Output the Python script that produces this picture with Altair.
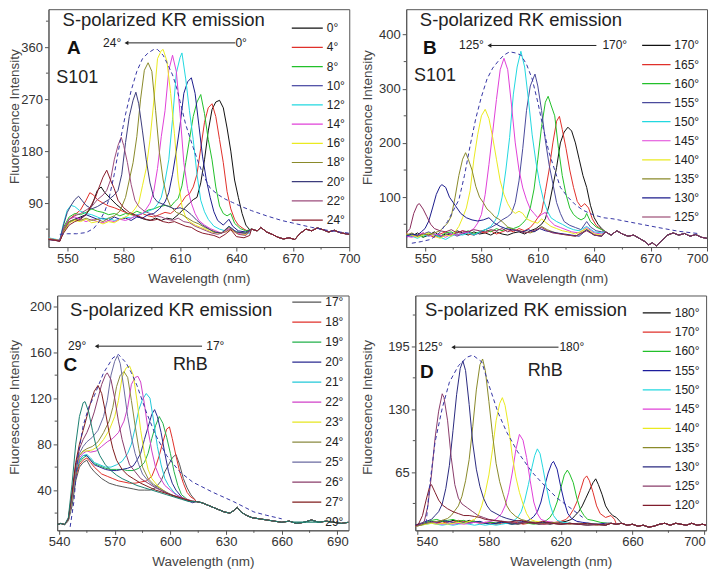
import altair as alt
import pandas as pd

FONT = "Liberation Sans"

# ---------------- Panel A : S101, KR ----------------
A_LABELS = ["0°", "4°", "8°", "10°", "12°", "14°", "16°", "18°", "20°", "22°", "24°"]
A_COLORS = ["#111111", "#e0302a", "#22c02a", "#1c1c8c", "#22d8e0", "#e040d8",
            "#eaea20", "#8a8a2a", "#3c3c7c", "#9c4c7c", "#8a1c2c"]
A_TAIL = [(648, 45), (651, 42), (653, 48), (656, 40), (659, 36), (662, 31), (665, 28),
          (668, 30), (671, 27), (674, 38), (677, 45), (680, 42), (683, 47), (686, 44),
          (689, 40), (692, 43), (695, 39), (698, 37), (700, 36)]
A_CURVES = {
    "0°": [(540, 28), (543, 26), (546, 24), (548, 42), (551, 58), (554, 62), (557, 66), (560, 70),
           (563, 85), (566, 112), (568, 118), (570, 108), (573, 98), (576, 88), (579, 80), (582, 72),
           (585, 70), (588, 66), (591, 62), (594, 60), (597, 64), (600, 60), (603, 64), (606, 62),
           (609, 70), (612, 80), (615, 90), (617, 96), (619, 100), (621, 125), (623, 165), (625, 215),
           (627, 252), (629, 265), (631, 268), (633, 255), (635, 220), (637, 180), (639, 130),
           (641, 100), (643, 72), (645, 52), (647, 44)],
    "4°": [(540, 29), (543, 27), (546, 25), (548, 45), (551, 62), (554, 70), (557, 78), (560, 95),
           (562, 108), (564, 104), (566, 96), (569, 90), (572, 85), (575, 82), (578, 78), (581, 74),
           (584, 70), (587, 68), (590, 72), (593, 68), (596, 66), (599, 70), (602, 74), (605, 72),
           (608, 80), (611, 92), (613, 102), (615, 106), (617, 118), (619, 140), (621, 185),
           (623, 230), (625, 255), (627, 262), (629, 240), (631, 200), (633, 160), (635, 110),
           (637, 80), (639, 62), (641, 52), (644, 45), (647, 40)],
    "8°": [(540, 28), (543, 27), (546, 26), (548, 48), (551, 66), (554, 72), (557, 70), (560, 74),
           (563, 80), (566, 76), (569, 74), (572, 70), (575, 72), (578, 68), (581, 72), (584, 70),
           (587, 76), (590, 72), (593, 78), (596, 80), (599, 84), (602, 86), (605, 84), (607, 92),
           (609, 98), (611, 120), (613, 160), (615, 200), (617, 240), (619, 265), (621, 278),
           (623, 245), (625, 200), (627, 165), (629, 118), (631, 85), (633, 72), (635, 68),
           (637, 72), (639, 55), (642, 46), (645, 42)],
    "10°": [(540, 27), (543, 26), (546, 25), (548, 40), (551, 56), (554, 62), (557, 64), (560, 70),
            (563, 66), (566, 62), (569, 64), (572, 60), (575, 66), (578, 62), (581, 64), (584, 60),
            (587, 66), (590, 64), (593, 70), (596, 72), (599, 80), (602, 92), (604, 108), (606, 140),
            (608, 180), (610, 225), (612, 280), (614, 300), (616, 307), (618, 280), (620, 225),
            (622, 170), (624, 130), (626, 100), (628, 75), (630, 60), (633, 52), (636, 62),
            (638, 50), (641, 42), (645, 40)],
    "12°": [(540, 30), (543, 28), (546, 26), (548, 55), (550, 78), (552, 86), (554, 84), (557, 76),
            (560, 72), (563, 70), (566, 66), (569, 62), (572, 64), (575, 60), (578, 62), (581, 66),
            (584, 64), (587, 70), (590, 72), (593, 76), (596, 80), (598, 88), (600, 100), (602, 128),
            (604, 165), (606, 235), (608, 315), (610, 342), (611, 350), (613, 305), (615, 250),
            (617, 200), (619, 140), (621, 95), (623, 75), (625, 62), (628, 50), (631, 45),
            (634, 42), (636, 50), (639, 42), (643, 38), (647, 38)],
    "14°": [(540, 29), (543, 27), (546, 26), (548, 44), (551, 62), (554, 66), (557, 62), (560, 58),
            (563, 62), (566, 58), (569, 56), (572, 60), (575, 58), (578, 62), (581, 60), (584, 64),
            (587, 68), (590, 72), (592, 80), (594, 90), (596, 110), (598, 150), (600, 205),
            (602, 250), (604, 320), (606, 346), (608, 318), (610, 245), (612, 160), (614, 115),
            (616, 90), (618, 72), (620, 60), (623, 52), (626, 46), (629, 42), (632, 38), (636, 46),
            (640, 38), (645, 36)],
    "16°": [(540, 28), (543, 27), (546, 25), (548, 40), (551, 56), (554, 60), (557, 58), (560, 62),
            (563, 56), (566, 58), (569, 54), (572, 58), (575, 56), (578, 62), (581, 66), (584, 72),
            (586, 80), (588, 90), (590, 120), (592, 150), (594, 200), (596, 265), (598, 340),
            (600, 354), (601, 356), (603, 336), (605, 280), (607, 210), (609, 130), (611, 85),
            (613, 65), (615, 58), (618, 52), (621, 48), (624, 44), (627, 40), (630, 38), (634, 40),
            (637, 44), (641, 36), (645, 36)],
    "18°": [(540, 28), (543, 27), (546, 25), (548, 42), (551, 58), (554, 62), (557, 60), (560, 64),
            (563, 60), (566, 62), (569, 58), (572, 64), (575, 68), (578, 76), (581, 100), (583, 130),
            (585, 160), (587, 205), (589, 270), (591, 320), (593, 333), (595, 318), (597, 250),
            (599, 178), (601, 130), (603, 100), (605, 84), (608, 74), (611, 70), (614, 64),
            (617, 58), (620, 54), (623, 48), (626, 44), (629, 40), (632, 38), (636, 48), (640, 40),
            (645, 38)],
    "20°": [(540, 27), (543, 26), (546, 25), (548, 52), (550, 74), (552, 86), (554, 96), (556, 102),
            (558, 94), (560, 86), (563, 80), (566, 84), (569, 90), (572, 96), (575, 104), (577, 112),
            (579, 140), (581, 195), (583, 240), (585, 268), (586.5, 282), (588, 262), (590, 215),
            (592, 165), (594, 125), (596, 100), (598, 92), (601, 88), (604, 84), (607, 80),
            (610, 82), (613, 78), (616, 70), (619, 60), (622, 52), (625, 46), (628, 40), (632, 38),
            (636, 50), (640, 40), (645, 38)],
    "22°": [(540, 28), (543, 26), (546, 24), (548, 45), (551, 62), (554, 68), (557, 72), (560, 78),
            (563, 84), (566, 96), (569, 104), (571, 112), (573, 130), (575, 165), (577, 190),
            (578.7, 204), (580, 190), (582, 160), (584, 122), (586, 95), (588, 84), (591, 76),
            (594, 72), (597, 68), (600, 66), (603, 62), (606, 60), (609, 64), (612, 58), (615, 56),
            (618, 50), (621, 46), (624, 42), (627, 38), (630, 36), (634, 40), (637, 46), (641, 36),
            (645, 34)],
    "24°": [(540, 27), (543, 26), (546, 24), (548, 38), (551, 52), (554, 58), (557, 62), (560, 70),
            (563, 88), (565, 100), (567, 118), (569, 135), (571, 147), (573, 130), (575, 115),
            (577, 95), (580, 82), (583, 74), (586, 70), (589, 66), (592, 62), (595, 60), (598, 62),
            (601, 58), (604, 56), (607, 58), (610, 54), (613, 50), (616, 48), (619, 42), (622, 38),
            (625, 36), (628, 34), (631, 30), (634, 36), (637, 44), (640, 32), (644, 30), (647, 34)],
}
A_DASH = [(546, 36), (550, 37), (555, 37), (560, 39), (564, 46), (567, 58), (570, 76), (572, 95),
          (575, 140), (578, 195), (581, 244), (584, 285), (587, 318), (590, 340), (593, 350),
          (596, 356), (598, 356), (601, 346), (603, 333), (606, 312), (608, 292), (610, 266),
          (613, 226), (617, 186), (620, 158), (623, 134), (626, 116), (630, 105), (634, 97),
          (638, 91), (642, 85), (648, 77), (656, 68), (664, 60), (672, 54), (680, 48), (690, 42),
          (700, 38)]

# ---------------- Panel B : S101, RK ----------------
B_LABELS = ["170°", "165°", "160°", "155°", "150°", "145°", "140°", "135°", "130°", "125°"]
B_COLORS = ["#111111", "#e0302a", "#22c02a", "#4a4a9c", "#22d8e0", "#e040d8",
            "#eaea20", "#8a8a2a", "#1c1c8c", "#8a2c5c"]
B_TAIL = [(646, 36), (649, 30), (652, 38), (655, 32), (658, 28), (661, 30), (664, 24), (667, 18),
          (669, 12), (671, 16), (673, 10), (676, 20), (679, 30), (682, 34), (685, 30), (688, 33),
          (691, 28), (694, 31), (697, 26), (700, 24)]
B_CURVES = {
    "170°": [(540, 30), (543, 28), (546, 34), (549, 26), (552, 30), (555, 36), (558, 28), (561, 32),
             (564, 30), (567, 38), (570, 34), (573, 30), (576, 36), (579, 32), (582, 34), (585, 30),
             (588, 36), (591, 32), (594, 30), (597, 34), (600, 36), (603, 32), (606, 38), (609, 42),
             (612, 50), (614, 60), (616, 85), (618, 120), (620, 155), (622, 200), (624, 220),
             (626, 229), (628, 222), (630, 200), (632, 170), (634, 140), (636, 118), (638, 85),
             (640, 62), (642, 50), (644, 42)],
    "165°": [(540, 32), (543, 30), (546, 28), (549, 34), (552, 30), (555, 26), (558, 32), (561, 36),
             (564, 30), (567, 34), (570, 38), (573, 32), (576, 30), (579, 36), (582, 34), (585, 38),
             (588, 32), (591, 36), (594, 40), (597, 36), (600, 42), (603, 38), (606, 44), (608, 52),
             (610, 62), (612, 72), (614, 110), (616, 150), (618, 200), (620, 240), (621.5, 249),
             (623, 225), (625, 190), (627, 150), (629, 118), (631, 92), (633, 82), (635, 88),
             (637, 80), (639, 60), (641, 48), (644, 40)],
    "160°": [(540, 28), (543, 32), (546, 30), (549, 26), (552, 34), (555, 30), (558, 28), (561, 34),
             (564, 36), (567, 30), (570, 34), (573, 38), (576, 32), (579, 36), (582, 40), (585, 36),
             (588, 42), (591, 38), (594, 44), (597, 42), (600, 46), (602, 52), (604, 60), (606, 80),
             (608, 115), (610, 170), (612, 230), (614, 275), (615.5, 286), (617, 270), (619, 250),
             (621, 190), (623, 140), (625, 105), (627, 80), (629, 68), (631, 62), (633, 58),
             (635, 62), (636, 70), (638, 55), (641, 45), (644, 40)],
    "155°": [(540, 26), (543, 30), (546, 28), (549, 32), (552, 36), (555, 30), (558, 26), (561, 30),
             (564, 34), (567, 28), (570, 32), (573, 36), (576, 30), (579, 34), (582, 40), (585, 44),
             (588, 50), (591, 58), (594, 64), (596, 70), (598, 90), (600, 130), (602, 190),
             (604, 260), (606, 305), (608.5, 327), (610, 305), (612, 260), (614, 205), (616, 160),
             (618, 125), (620, 90), (622, 70), (624, 55), (627, 48), (630, 44), (633, 40), (636, 55),
             (638, 45), (641, 38), (644, 36)],
    "150°": [(540, 30), (543, 28), (546, 24), (549, 30), (552, 28), (555, 32), (558, 26), (561, 22),
             (564, 28), (567, 32), (570, 30), (573, 34), (576, 30), (579, 36), (582, 40), (585, 46),
             (587, 55), (589, 68), (591, 100), (593, 150), (595, 210), (597, 290), (599, 340),
             (601, 369), (603, 340), (605, 280), (607, 215), (609, 165), (611, 125), (613, 95),
             (615, 75), (617, 62), (620, 55), (623, 50), (626, 44), (629, 40), (632, 38), (636, 46),
             (640, 36), (644, 34)],
    "145°": [(540, 28), (543, 26), (546, 30), (549, 34), (552, 28), (555, 32), (558, 30), (561, 26),
             (564, 32), (567, 30), (570, 34), (573, 36), (576, 42), (578, 52), (580, 68), (582, 105),
             (584, 160), (586, 220), (588, 280), (590, 335), (592, 356), (594, 335), (596, 270),
             (598, 200), (600, 150), (602, 117), (604, 95), (606, 78), (608, 70), (610, 62),
             (612, 68), (614, 72), (616, 58), (619, 48), (622, 44), (625, 40), (628, 36), (632, 34),
             (636, 44), (640, 34), (644, 32)],
    "140°": [(540, 32), (543, 30), (546, 26), (549, 30), (552, 34), (555, 28), (558, 24), (561, 30),
             (564, 28), (566, 36), (568, 46), (570, 62), (572, 80), (574, 112), (576, 170),
             (578, 215), (580, 250), (582, 262), (584, 245), (586, 210), (588, 170), (590, 130),
             (592, 105), (594, 88), (596, 76), (598, 70), (600, 74), (602, 70), (604, 60), (607, 55),
             (610, 52), (612, 60), (614, 54), (617, 46), (620, 42), (623, 38), (626, 36), (630, 32),
             (636, 42), (640, 32), (644, 30)],
    "135°": [(540, 30), (543, 34), (546, 28), (549, 32), (552, 30), (555, 34), (558, 38), (560, 45),
             (562, 52), (564, 65), (566, 100), (568, 140), (570, 170), (571.6, 182), (573, 170),
             (575, 150), (577, 120), (579, 100), (581, 90), (583, 78), (585, 72), (587, 64),
             (589, 60), (591, 55), (594, 45), (597, 40), (600, 38), (603, 36), (606, 34), (609, 38),
             (612, 46), (615, 40), (618, 36), (622, 32), (626, 30), (630, 28), (636, 40), (640, 30),
             (644, 28)],
    "130°": [(540, 28), (543, 32), (546, 30), (548, 36), (550, 42), (552, 56), (554, 80), (556, 105),
             (558, 120), (559, 123), (561, 118), (563, 100), (565, 90), (567, 80), (569, 70),
             (572, 62), (575, 58), (578, 56), (581, 58), (584, 62), (587, 52), (590, 46), (593, 42),
             (596, 40), (599, 38), (602, 36), (605, 40), (608, 36), (611, 42), (614, 38), (617, 36),
             (620, 34), (624, 32), (628, 30), (632, 28), (636, 40), (640, 30), (644, 28)],
    "125°": [(540, 34), (542, 42), (544, 70), (546, 86), (547, 88), (549, 78), (551, 64), (553, 50),
             (555, 42), (558, 38), (561, 36), (564, 40), (567, 34), (570, 38), (573, 36), (576, 40),
             (579, 38), (582, 36), (585, 40), (588, 38), (591, 42), (594, 36), (597, 40), (600, 38),
             (603, 34), (606, 36), (609, 40), (612, 44), (615, 38), (618, 34), (622, 32), (626, 30),
             (630, 28), (636, 38), (640, 30), (644, 28)],
}
B_DASH = [(543, 15), (548, 18), (553, 22), (558, 35), (562, 55), (565, 75), (568, 95), (571, 140),
          (574, 195), (577, 245), (580, 285), (583, 318), (586, 338), (589, 351), (592, 362),
          (595, 368), (598, 366), (601, 362), (604, 345), (607, 318), (610, 275), (613, 225),
          (616, 182), (619, 150), (622, 118), (626, 100), (630, 86), (634, 76), (639, 68),
          (645, 62), (650, 60), (656, 56), (665, 50), (674, 44), (685, 37), (695, 33)]

# ---------------- Panel C : RhB, KR ----------------
C_LABELS = ["17°", "18°", "19°", "20°", "21°", "22°", "23°", "24°", "25°", "26°", "27°", "29°"]
C_COLORS = ["#555555", "#e0302a", "#22b04a", "#2a2a90", "#22c8d8", "#d040c8",
            "#e6e620", "#8a8a40", "#6a6aa0", "#8a3c6a", "#801c1c", "#1c8070"]
C_TAIL = [(614, 30), (617, 29), (620, 27), (623, 25), (626, 23), (629, 21), (632, 20), (634, 22),
          (636, 25), (638, 21), (641, 18), (644, 16), (648, 15), (652, 14), (656, 13), (660, 12),
          (664, 13), (668, 11), (672, 12), (676, 14), (680, 12), (684, 13), (688, 12), (692, 11),
          (696, 12)]
C_CURVES = {
    "17°": [(539, 10), (541, 11), (543, 10), (545, 13), (547, 26), (549, 48), (551, 60), (553, 64),
            (555, 66), (557, 60), (559, 56), (561, 53), (563, 50), (565, 48), (567, 46), (569, 45),
            (571, 44), (574, 43), (577, 42), (580, 41), (583, 40), (586, 40), (589, 40), (592, 42),
            (595, 48), (597, 56), (599, 62), (601, 68), (603, 71), (605, 62), (607, 50), (609, 42),
            (611, 36), (613, 32)],
    "18°": [(539, 10), (541, 11), (543, 10), (545, 14), (547, 30), (549, 52), (551, 62), (553, 66),
            (555, 68), (557, 64), (559, 60), (561, 57), (563, 54), (566, 52), (569, 50), (572, 48),
            (575, 47), (578, 46), (581, 46), (584, 47), (587, 48), (590, 52), (592, 60), (594, 70),
            (596, 82), (598, 93), (599.5, 95), (601, 85), (603, 70), (605, 56), (607, 46),
            (609, 38), (611, 34), (613, 32)],
    "19°": [(539, 10), (541, 11), (543, 10), (545, 14), (547, 30), (549, 54), (551, 64), (553, 68),
            (555, 70), (557, 66), (559, 63), (562, 61), (565, 59), (568, 58), (571, 58), (574, 58),
            (577, 57), (580, 57), (583, 59), (586, 64), (588, 72), (590, 85), (592, 96), (594, 104),
            (596, 98), (598, 86), (600, 72), (602, 56), (604, 44), (606, 36), (609, 32), (612, 30)],
    "20°": [(539, 10), (541, 11), (543, 10), (545, 14), (547, 30), (549, 55), (551, 66), (553, 70),
            (555, 70), (557, 66), (559, 62), (562, 60), (565, 58), (568, 57), (571, 57), (574, 58),
            (577, 59), (580, 61), (582, 66), (584, 72), (586, 84), (588, 95), (590, 106),
            (591.5, 110), (593, 104), (595, 90), (597, 72), (599, 56), (601, 46), (603, 40),
            (606, 34), (609, 31), (612, 29)],
    "21°": [(539, 10), (541, 11), (543, 10), (545, 14), (547, 32), (549, 56), (551, 66), (553, 70),
            (555, 71), (557, 68), (559, 64), (562, 62), (565, 60), (568, 60), (571, 62), (574, 65),
            (577, 72), (579, 80), (581, 94), (583, 110), (585, 119), (587, 124), (589, 120),
            (591, 100), (593, 78), (595, 62), (597, 50), (599, 44), (602, 38), (605, 34), (609, 31),
            (613, 30)],
    "22°": [(539, 10), (541, 11), (543, 10), (545, 14), (547, 32), (549, 56), (551, 68), (553, 72),
            (555, 74), (557, 73), (560, 74), (563, 78), (566, 82), (569, 85), (572, 90), (575, 100),
            (577, 112), (579, 132), (581, 138), (582.5, 139), (584, 134), (586, 115), (588, 92),
            (590, 74), (592, 60), (594, 52), (597, 44), (600, 40), (603, 36), (607, 33), (611, 31)],
    "23°": [(539, 10), (541, 11), (543, 10), (545, 14), (547, 32), (549, 58), (551, 70), (553, 74),
            (555, 74), (558, 75), (561, 78), (564, 84), (567, 92), (570, 104), (572, 118),
            (574, 138), (576, 146), (578, 148), (580, 140), (582, 118), (584, 92), (586, 72),
            (588, 58), (590, 50), (593, 44), (596, 40), (600, 36), (604, 34), (608, 32), (612, 30)],
    "24°": [(539, 10), (541, 11), (543, 10), (545, 14), (547, 32), (549, 58), (551, 70), (553, 74),
            (555, 76), (558, 78), (561, 82), (564, 90), (567, 100), (569, 112), (571, 130),
            (573, 140), (575, 143), (577, 138), (579, 118), (581, 96), (583, 76), (585, 60),
            (588, 50), (591, 45), (594, 42), (598, 38), (602, 35), (606, 33), (610, 31)],
    "25°": [(539, 10), (541, 11), (543, 10), (545, 14), (547, 34), (549, 60), (551, 72), (553, 78),
            (555, 82), (558, 86), (561, 92), (564, 104), (566, 118), (568, 140), (570, 152),
            (571.5, 157), (573, 150), (575, 128), (577, 104), (579, 86), (581, 72), (583, 62),
            (585, 54), (588, 48), (591, 44), (595, 40), (599, 37), (603, 34), (607, 32), (611, 30)],
    "26°": [(539, 10), (541, 11), (543, 10), (545, 15), (547, 36), (549, 62), (551, 76), (553, 84),
            (555, 90), (557, 98), (559, 108), (561, 120), (563, 132), (565, 140), (566, 142),
            (568, 136), (570, 120), (572, 100), (574, 84), (576, 72), (578, 62), (581, 56),
            (584, 50), (588, 46), (592, 42), (596, 39), (600, 36), (604, 34), (608, 32), (612, 30)],
    "27°": [(539, 10), (541, 11), (543, 10), (545, 15), (547, 38), (549, 64), (551, 80), (553, 92),
            (555, 104), (557, 116), (559, 126), (561, 131), (563, 124), (565, 108), (567, 90),
            (569, 76), (571, 66), (574, 58), (577, 53), (580, 50), (584, 46), (588, 43), (592, 40),
            (596, 38), (600, 36), (604, 34), (608, 32), (612, 30)],
    "29°": [(539, 10), (541, 11), (543, 10), (545, 16), (547, 45), (549, 80), (551, 104), (553, 116),
            (554, 117), (556, 108), (558, 92), (560, 78), (562, 70), (565, 62), (568, 57), (571, 53),
            (574, 50), (578, 47), (582, 44), (586, 42), (590, 40), (594, 38), (598, 36), (602, 34),
            (606, 32), (610, 30), (613, 30)],
}
C_DASH = [(546, 8), (548, 30), (550, 67), (553, 96), (556, 112), (559, 122), (564, 142), (569, 155),
          (572, 158), (576, 151), (579, 142), (582, 131), (587, 108), (592, 88), (598, 70),
          (605, 56), (612, 47), (623, 38), (634, 30), (645, 21), (652, 18), (660, 15)]

# ---------------- Panel D : RhB, RK ----------------
D_LABELS = ["180°", "170°", "160°", "155°", "150°", "145°", "140°", "135°", "130°", "125°", "120°"]
D_COLORS = ["#111111", "#e0302a", "#22c02a", "#1c1c9c", "#22d8e0", "#e040d8",
            "#eaea20", "#8a8a2a", "#2a2a80", "#8a3c6a", "#801c2c"]
D_TAIL = [(648, 12), (651, 11), (654, 12), (657, 10), (660, 11), (663, 9), (666, 10), (669, 8),
          (672, 9), (675, 11), (678, 12), (681, 10), (684, 12), (687, 11), (690, 10), (693, 12),
          (696, 10), (699, 11), (701, 10)]
D_CURVES = {
    "180°": [(539, 9), (542, 10), (545, 12), (548, 13), (551, 12), (554, 14), (557, 13), (560, 15),
             (563, 14), (566, 13), (569, 15), (572, 14), (575, 13), (578, 12), (581, 13), (584, 12),
             (587, 14), (590, 13), (593, 12), (596, 11), (599, 12), (602, 13), (605, 12), (608, 11),
             (611, 12), (614, 11), (617, 12), (620, 13), (623, 14), (626, 16), (628, 20), (630, 24),
             (632, 30), (634, 38), (636, 46), (638, 54), (639.5, 58), (641, 52), (643, 42),
             (645, 30), (647, 24), (649, 20), (651, 18), (653, 14)],
    "170°": [(539, 9), (542, 11), (545, 12), (548, 14), (551, 13), (554, 12), (557, 14), (560, 13),
             (563, 15), (566, 14), (569, 13), (572, 14), (575, 12), (578, 13), (581, 12), (584, 11),
             (587, 12), (590, 13), (593, 12), (596, 13), (599, 11), (602, 12), (605, 13), (608, 12),
             (611, 11), (614, 12), (617, 13), (620, 14), (623, 16), (625, 20), (627, 26), (629, 34),
             (631, 46), (633, 58), (634.5, 61), (636, 56), (638, 44), (640, 30), (642, 22),
             (645, 18), (648, 20), (650, 16)],
    "160°": [(539, 9), (542, 11), (545, 13), (548, 15), (551, 16), (554, 14), (557, 15), (560, 16),
             (563, 14), (566, 15), (569, 13), (572, 14), (575, 13), (578, 12), (581, 13), (584, 12),
             (587, 13), (590, 12), (593, 11), (596, 12), (599, 13), (602, 12), (605, 11), (608, 12),
             (610, 13), (612, 15), (614, 18), (616, 24), (618, 34), (620, 48), (622, 62),
             (623.7, 67), (625, 63), (627, 54), (629, 38), (631, 26), (633, 20), (635, 16),
             (638, 15), (642, 13), (646, 12)],
    "155°": [(539, 10), (542, 11), (545, 12), (548, 14), (551, 13), (554, 15), (557, 14), (560, 13),
             (563, 12), (566, 13), (569, 12), (572, 13), (575, 14), (578, 12), (581, 11), (584, 12),
             (587, 13), (590, 12), (593, 11), (596, 12), (599, 13), (601, 14), (603, 16), (605, 19),
             (607, 24), (609, 34), (611, 50), (613, 64), (615, 74), (616, 76), (618, 68), (620, 50),
             (622, 34), (624, 22), (626, 17), (629, 14), (632, 13), (636, 12), (640, 11), (645, 12)],
    "150°": [(539, 9), (542, 10), (545, 11), (548, 12), (551, 11), (554, 10), (557, 11), (560, 10),
             (563, 11), (566, 12), (569, 11), (572, 10), (575, 11), (578, 10), (581, 11), (584, 10),
             (587, 11), (590, 12), (592, 13), (594, 15), (596, 18), (598, 24), (600, 36), (602, 52),
             (604, 70), (605.5, 82), (607, 89), (608.5, 84), (610, 70), (612, 50), (614, 32),
             (616, 20), (618, 15), (621, 13), (625, 12), (630, 11), (635, 12), (640, 11), (645, 10)],
    "145°": [(539, 9), (542, 10), (545, 12), (548, 13), (551, 12), (554, 11), (557, 12), (560, 11),
             (563, 12), (566, 11), (569, 12), (572, 13), (575, 12), (578, 13), (581, 14), (583, 15),
             (585, 18), (587, 22), (589, 30), (591, 44), (593, 64), (595, 88), (597, 104), (599, 98),
             (601, 80), (603, 56), (605, 34), (607, 22), (609, 16), (612, 14), (616, 13), (620, 12),
             (625, 11), (630, 12), (635, 11), (640, 10), (645, 11)],
    "140°": [(539, 9), (542, 10), (545, 11), (548, 12), (551, 11), (554, 12), (557, 11), (560, 12),
             (563, 13), (566, 12), (569, 14), (572, 16), (574, 20), (576, 30), (578, 44), (580, 62),
             (582, 88), (584, 118), (586, 136), (587.5, 142), (589, 134), (591, 112), (593, 82),
             (595, 60), (597, 44), (599, 32), (601, 22), (603, 16), (606, 14), (610, 13), (615, 12),
             (620, 11), (625, 12), (630, 11), (635, 10), (640, 11), (645, 10)],
    "135°": [(539, 9), (542, 10), (545, 12), (548, 13), (551, 14), (554, 15), (557, 17), (559, 20),
             (561, 25), (563, 30), (565, 40), (567, 56), (569, 78), (571, 112), (573, 150),
             (575, 176), (576.5, 182), (578, 170), (580, 138), (582, 104), (584, 74), (586, 55),
             (588, 42), (590, 30), (592, 24), (595, 19), (598, 16), (602, 14), (606, 13), (610, 12),
             (615, 13), (620, 12), (625, 11), (630, 12), (635, 11), (640, 10), (645, 11)],
    "130°": [(539, 10), (542, 12), (545, 14), (548, 16), (550, 20), (552, 24), (554, 32), (556, 48),
             (558, 72), (560, 108), (562, 145), (564, 172), (565.5, 180), (567, 170), (569, 135),
             (571, 95), (573, 68), (575, 50), (577, 38), (579, 30), (581, 25), (584, 22), (587, 19),
             (590, 17), (594, 15), (598, 14), (602, 13), (606, 12), (610, 13), (615, 12), (620, 11),
             (625, 12), (630, 11), (635, 10), (640, 11), (645, 10)],
    "125°": [(539, 9), (542, 11), (544, 14), (546, 30), (548, 62), (550, 100), (552, 128), (554, 146),
             (555, 142), (557, 118), (559, 80), (561, 52), (563, 38), (565, 32), (568, 28), (571, 24),
             (574, 20), (577, 18), (580, 16), (584, 15), (588, 14), (592, 13), (596, 12), (600, 13),
             (605, 12), (610, 11), (615, 12), (620, 11), (625, 12), (630, 11), (635, 10), (640, 11),
             (645, 10)],
    "120°": [(539, 9), (541, 12), (543, 20), (545, 36), (547, 50), (548, 52), (550, 44), (552, 36),
             (554, 31), (557, 27), (560, 24), (563, 22), (566, 20), (569, 20), (572, 19), (575, 18),
             (578, 16), (582, 15), (586, 14), (590, 13), (594, 14), (598, 15), (602, 13), (606, 12),
             (610, 14), (615, 12), (620, 11), (625, 12), (630, 11), (635, 12), (640, 11), (645, 10)],
}
D_DASH = [(545, 12), (547, 51), (550, 96), (554, 131), (558, 158), (563, 175), (568, 184),
          (571, 186), (576, 179), (580, 155), (585, 127), (590, 106), (596, 86), (604, 65),
          (611, 51), (618, 38), (626, 27), (633, 17)]

# minor tick positions
A_XMINOR = [565, 595, 625, 655, 685]
A_YMINOR = [45, 135, 225, 315, 405]
B_XMINOR = [565, 595, 625, 655, 685]
B_YMINOR = [50, 150, 250, 350]
C_XMINOR = [555, 585, 615, 645, 675]
C_YMINOR = [20, 60, 100, 140, 180]
D_XMINOR = [560, 600, 640, 680]
D_YMINOR = [32.5, 97.5, 162.5, 227.5]


# ---------------- helpers ----------------
def build_df(labels, curves, tail):
    rows = []
    for lab in labels:
        pts = list(curves[lab])
        last = pts[-1][0]
        pts += [p for p in tail if p[0] > last]
        for w, v in pts:
            rows.append({"wl": w, "val": v, "series": lab})
    return pd.DataFrame(rows)


def txt(s, px, py, size, weight="normal", color="#222"):
    return alt.Chart(pd.DataFrame({"t": [s]})).mark_text(
        font=FONT, fontSize=size, fontWeight=weight, color=color,
        align="center", baseline="middle"
    ).encode(x=alt.value(px), y=alt.value(py), text="t:N")


def arrow(x1, x2, py):
    d = pd.DataFrame({"a": [0]})
    line = alt.Chart(d).mark_rule(color="#222", strokeWidth=1).encode(
        x=alt.value(x1 + 3), x2=alt.value(x2), y=alt.value(py))
    head = alt.Chart(d).mark_point(shape="triangle-left", filled=True, color="#222",
                                   size=20, opacity=1).encode(x=alt.value(x1 + 3), y=alt.value(py))
    return [line, head]


def panel(P):
    df = build_df(P["labels"], P["curves"], P["tail"])
    dash = pd.DataFrame(P["dash"], columns=["wl", "val"])
    xs = alt.Scale(domain=P["xdom"], nice=False, zero=False)
    ys = alt.Scale(domain=P["ydom"], nice=False, zero=False)
    xax = alt.Axis(values=P["xticks"], title="Wavelength (nm)", tickSize=4, labelPadding=1,
                   titlePadding=6, minExtent=18, maxExtent=18, labelFlush=P["flush"],
                   labelFlushOffset=1, grid=False)
    yax = alt.Axis(values=P["yticks"], title="Fluorescence Intensity", tickSize=4, labelPadding=2,
                   titleX=P["titleX"], titleY=P["titleY"], titleAngle=270,
                   titleBaseline="bottom", titleAlign="center", grid=False)
    L = P["legend"]
    leg = alt.Legend(orient="none", legendX=L["x"], legendY=L["y"], title=None,
                     symbolType="stroke", symbolSize=L["sym"], symbolStrokeWidth=1.2,
                     clipHeight=14, rowPadding=L["row"], labelOffset=L["lo"], padding=0,
                     labelFont=FONT, labelFontSize=12, labelColor="#222")
    lines = alt.Chart(df).mark_line(strokeWidth=1, clip=True).encode(
        x=alt.X("wl:Q", scale=xs, axis=xax),
        y=alt.Y("val:Q", scale=ys, axis=yax),
        color=alt.Color("series:N", scale=alt.Scale(domain=P["labels"], range=P["colors"]),
                        legend=leg),
    )
    dashed = alt.Chart(dash).mark_line(strokeDash=[4, 3], color="#3535a5", strokeWidth=1,
                                       clip=True).encode(x=alt.X("wl:Q", axis=xax),
                                                         y=alt.Y("val:Q", axis=yax))
    xm = alt.Chart(pd.DataFrame({"wl": P["xminor"]})).mark_rule(
        color="#555", strokeWidth=1).encode(x=alt.X("wl:Q", axis=xax),
                                            y=alt.value(P["h"]), y2=alt.value(P["h"] + 2.5))
    ym = alt.Chart(pd.DataFrame({"val": P["yminor"]})).mark_rule(
        color="#555", strokeWidth=1).encode(y=alt.Y("val:Q", axis=yax),
                                            x=alt.value(-2.5), x2=alt.value(0))
    layers = [lines, dashed, xm, ym]
    T = P["text"]
    layers.append(txt(T["title"][0], T["title"][1], T["title"][2], 18.5))
    layers.append(txt(T["letter"][0], T["letter"][1], T["letter"][2], 19, "bold", "#111"))
    layers.append(txt(T["dye"][0], T["dye"][1], T["dye"][2], 18))
    layers.append(txt(T["from"][0], T["from"][1], T["from"][2], 12))
    layers.append(txt(T["to"][0], T["to"][1], T["to"][2], 12))
    layers += arrow(T["arrow"][0], T["arrow"][1], T["arrow"][2])
    return alt.layer(*layers).properties(width=P["w"], height=P["h"])


PA = dict(labels=A_LABELS, colors=A_COLORS, curves=A_CURVES, tail=A_TAIL, dash=A_DASH,
          xminor=A_XMINOR, yminor=A_YMINOR,
          xdom=[540, 700], ydom=[14, 425.7], xticks=[550, 580, 610, 640, 670, 700],
          yticks=[90, 180, 270, 360], w=301, h=238, titleX=-26.5, titleY=107, flush=False,
          legend=dict(x=242.5, y=12, sym=961, row=5.2, lo=3),
          text={"title": ("S-polarized KR emission", 115.3, 11), "letter": ("A", 25.3, 38.7),
                "dye": ("S101", 28.7, 68.7), "from": ("24°", 63.7, 33.7),
                "to": ("0°", 192.8, 33.7), "arrow": (75, 187, 33.7)})
PB = dict(labels=B_LABELS, colors=B_COLORS, curves=B_CURVES, tail=B_TAIL, dash=B_DASH,
          xminor=B_XMINOR, yminor=B_YMINOR,
          xdom=[540, 700], ydom=[8, 446.6], xticks=[550, 580, 610, 640, 670, 700],
          yticks=[100, 200, 300, 400], w=301, h=238, titleX=-31.9, titleY=108, flush=3,
          legend=dict(x=235.3, y=29.3, sym=807, row=5.07, lo=3),
          text={"title": ("S-polarized RK emission", 114.8, 11), "letter": ("B", 23.7, 38.7),
                "dye": ("S101", 28.7, 67), "from": ("125°", 65.3, 36.3),
                "to": ("170°", 208.7, 36.3), "arrow": (80.3, 190.3, 36.3)})
PC = dict(labels=C_LABELS, colors=C_COLORS, curves=C_CURVES, tail=C_TAIL, dash=C_DASH,
          xminor=C_XMINOR, yminor=C_YMINOR,
          xdom=[539, 696], ydom=[5, 209.3], xticks=[540, 570, 600, 630, 660, 690],
          yticks=[40, 80, 120, 160, 200], w=291.6, h=235, titleX=-35.2, titleY=111.5, flush=False,
          legend=dict(x=234.3, y=-0.3, sym=841, row=6, lo=3),
          text={"title": ("S-polarized KR emission", 114.1, 15), "letter": ("C", 13.3, 69.3),
                "dye": ("RhB", 133.3, 69.3), "from": ("29°", 20, 50.7),
                "to": ("17°", 158.3, 50.7), "arrow": (36.6, 145, 50.7)})
PD = dict(labels=D_LABELS, colors=D_COLORS, curves=D_CURVES, tail=D_TAIL, dash=D_DASH,
          xminor=D_XMINOR, yminor=D_YMINOR,
          xdom=[539, 701], ydom=[4.7, 247.7], xticks=[540, 580, 620, 660, 700],
          yticks=[65, 130, 195], w=291, h=235, titleX=-40.6, titleY=111.5, flush=3,
          legend=dict(x=226.6, y=10.3, sym=784, row=5.27, lo=3),
          text={"title": ("S-polarized RK emission", 110.8, 15), "letter": ("D", 11.6, 76.7),
                "dye": ("RhB", 130, 76), "from": ("125°", 15, 51.7),
                "to": ("180°", 156.6, 51.7), "arrow": (35, 143.3, 51.7)})

RES = dict(x="independent", y="independent", color="independent")

pA, pB, pC, pD = panel(PA), panel(PB), panel(PC), panel(PD)
top = alt.hconcat(pA, pB, spacing=57, bounds="flush").resolve_scale(**RES)
bot_in = alt.hconcat(pC, pD, spacing=66.4, bounds="flush").resolve_scale(**RES)
spacer = alt.Chart(pd.DataFrame({"a": [0]})).mark_point(opacity=0).encode(
    x=alt.value(0), y=alt.value(0)).properties(width=1, height=235,
                                               view=alt.ViewBackground(stroke=None))
bot = alt.hconcat(spacer, bot_in, spacing=7.7, bounds="flush").resolve_scale(**RES)

chart = alt.vconcat(top, bot, spacing=7.5, bounds="full").resolve_scale(**RES).properties(
    padding={"left": -1.5, "top": 0, "right": 0, "bottom": 0}, background="white"
).configure_view(stroke="#555", strokeWidth=1).configure_axis(
    labelFont=FONT, titleFont=FONT, labelFontSize=13, titleFontSize=13.5,
    titleFontWeight="normal", labelColor="#333", titleColor="#444",
    domainColor="#555", tickColor="#555"
)

chart.save("out.html", embed_options={"renderer": "svg", "actions": False})
